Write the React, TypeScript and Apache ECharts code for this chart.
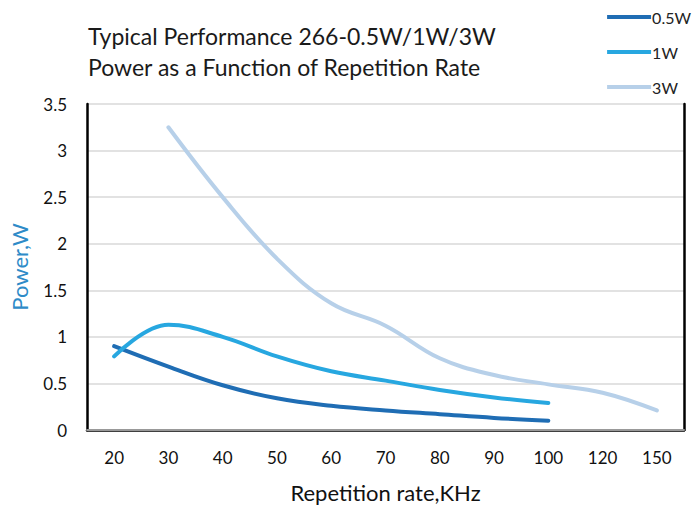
import React, { useEffect, useRef } from "react";
import * as echarts from "echarts";

const categories = ["20", "30", "40", "50", "60", "70", "80", "90", "100", "120", "150"];
const power05W = [0.9, 0.68, 0.48, 0.34, 0.26, 0.21, 0.17, 0.13, 0.1, null, null];
const power1W = [0.79, 1.13, 1.0, 0.79, 0.63, 0.53, 0.43, 0.35, 0.29, null, null];
const power3W = [null, 3.25, 2.5, 1.84, 1.36, 1.12, 0.77, 0.59, 0.49, 0.4, 0.21];
const seriesNames = ["0.5W", "1W", "3W"];
const colors = ["#1F6DB4", "#27A7E0", "#B7D0E9"];

const FONT = "Lato, 'Open Sans', sans-serif";

export default function App() {
  const ref = useRef<HTMLDivElement>(null);
  useEffect(() => {
    if (!ref.current) return;
    const chart = echarts.init(ref.current, undefined, { renderer: "svg" });
    const datasets = [power05W, power1W, power3W];
    chart.setOption({
      animation: false,
      textStyle: { fontFamily: FONT },
      title: {
        text: "Typical Performance 266-0.5W/1W/3W\nPower as a Function of Repetition Rate",
        left: 83,
        top: 15,
        textStyle: { fontSize: 23, fontWeight: "normal", color: "#1a1a1a", lineHeight: 31, fontFamily: FONT },
      },
      legend: {
        orient: "vertical",
        right: 0,
        top: 4,
        padding: [5, 3, 5, 5],
        icon: "rect",
        itemWidth: 44,
        itemHeight: 4,
        itemGap: 19,
        textStyle: { fontSize: 16, color: "#222", padding: [0, 0, 0, -4] },
        data: seriesNames,
      },
      grid: {
        left: 86,
        right: 10,
        top: 104,
        bottom: 79,
      },
      xAxis: [
        {
          type: "category",
          data: categories,
          boundaryGap: true,
          axisLine: { show: true, lineStyle: { color: "#999", width: 2 } },
          axisTick: { show: false },
          axisLabel: { fontSize: 17, color: "#111", margin: 19 },
          name: "Repetition rate,KHz",
          nameLocation: "middle",
          nameGap: 51,
          nameTextStyle: { fontSize: 22, color: "#111" },
          z: 3,
        },
        {
          type: "category",
          data: categories,
          position: "top",
          boundaryGap: true,
          axisLine: { show: true, lineStyle: { color: "#000", width: 2.5 } },
          axisTick: { show: false },
          axisLabel: { show: false },
          splitLine: { show: false },
        },
      ],
      yAxis: [
        {
          type: "value",
          min: 0,
          max: 3.5,
          interval: 0.5,
          axisLine: { show: true, lineStyle: { color: "#000", width: 2.5 } },
          axisTick: { show: false },
          axisLabel: { fontSize: 17, color: "#111", margin: 20 },
          splitLine: { lineStyle: { color: "#d9d9d9", width: 1.5 } },
          name: "Power,W",
          nameLocation: "middle",
          nameGap: 57,
          nameTextStyle: { fontSize: 22, color: "#2E8BC8" },
        },
        {
          type: "value",
          min: 0,
          max: 3.5,
          interval: 0.5,
          position: "right",
          axisLine: { show: true, lineStyle: { color: "#000", width: 2.5 } },
          axisTick: { show: false },
          axisLabel: { show: false },
          splitLine: { show: false },
        },
      ],
      series: seriesNames.map((name, i) => ({
        name,
        type: "line",
        data: datasets[i],
        smooth: 0.4,
        symbol: "none",
        connectNulls: false,
        lineStyle: { color: colors[i], width: 4, cap: "round" },
        itemStyle: { color: colors[i] },
      })),
    });
    return () => chart.dispose();
  }, []);
  return <div ref={ref} style={{ width: 694, height: 509, position: "absolute", left: 0, top: 0 }} />;
}
